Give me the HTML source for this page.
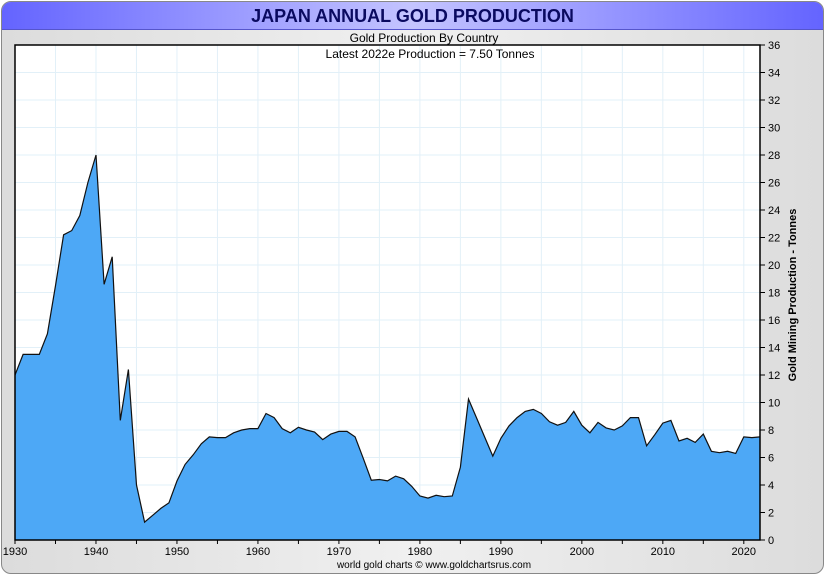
<!DOCTYPE html>
<html><head><meta charset="utf-8"><style>
body{margin:0;width:825px;height:575px;overflow:hidden;font-family:"Liberation Sans",sans-serif;background:#fff}
#frame{position:absolute;left:1px;top:1px;width:821px;height:571px;border:1px solid #888;border-radius:10px;background:linear-gradient(90deg,#dcdcdc,#f0f0f0 50%,#dcdcdc);overflow:hidden}
#title{position:absolute;left:0;top:0;width:821px;height:27px;background:linear-gradient(90deg,#6464ff,#c4c4ff 50%,#6464ff);border-bottom:1px solid #5555cc;text-align:center;font-weight:bold;font-size:18px;line-height:28px;color:#0a0a60}
</style></head><body>
<div id="frame">
<div id="title">JAPAN ANNUAL GOLD PRODUCTION</div>
</div>
<svg id="chart" width="825" height="575" style="position:absolute;left:0;top:0"></svg>
<script>
const years=[];for(let y=1930;y<=2022;y++)years.push(y);
const production=[12.0,13.5,13.5,13.5,15,18.5,22.2,22.5,23.6,26,28,18.6,20.6,8.7,12.4,4,1.3,1.8,2.3,2.7,4.3,5.5,6.2,7.0,7.5,7.45,7.45,7.8,8.0,8.1,8.1,9.2,8.9,8.1,7.8,8.2,8.0,7.85,7.3,7.7,7.9,7.9,7.5,5.95,4.35,4.4,4.3,4.65,4.45,3.9,3.2,3.05,3.25,3.15,3.2,5.3,10.25,8.87,7.48,6.1,7.4,8.3,8.9,9.35,9.5,9.2,8.6,8.35,8.55,9.35,8.35,7.8,8.55,8.15,8.0,8.3,8.9,8.9,6.85,7.65,8.5,8.7,7.2,7.4,7.1,7.7,6.45,6.35,6.45,6.3,7.5,7.45,7.5];
const yTicks=[0,2,4,6,8,10,12,14,16,18,20,22,24,26,28,30,32,34,36];
const xTicks=[1930,1940,1950,1960,1970,1980,1990,2000,2010,2020];
const L=15,R=760,T=45,B=540;
const X=y=>L+(y-1930)*(R-L)/92;
const Y=v=>B-v*(B-T)/36;
const svg=document.getElementById('chart');const NS='http://www.w3.org/2000/svg';
function mk(t,a,p){const e=document.createElementNS(NS,t);for(const k in a)e.setAttribute(k,a[k]);(p||svg).appendChild(e);return e;}
let e=mk('rect',{x:L,y:T,width:R-L,height:B-T,fill:'#fff'});


for(let yr=1935;yr<2022;yr+=5){e=mk('line',{x1:X(yr),x2:X(yr),y1:T,y2:B,stroke:'#e2f0f8','stroke-width':1});

}
yTicks.forEach(v=>{e=mk('line',{x1:L,x2:R,y1:Y(v),y2:Y(v),stroke:'#e2f0f8','stroke-width':1});

});
let d='M'+X(years[0])+','+Y(0);
years.forEach((yr,i)=>{d+=' L'+X(yr).toFixed(1)+','+Y(production[i]).toFixed(1);});
d+=' L'+X(years[years.length-1])+','+Y(0)+' Z';
e=mk('path',{d:d,fill:'#4da8f6',stroke:'none'});


let ld='';years.forEach((yr,i)=>{ld+=(i?' L':'M')+X(yr).toFixed(1)+','+Y(production[i]).toFixed(1);});
e=mk('path',{d:ld,fill:'none',stroke:'#111','stroke-width':1.2});


e=mk('rect',{x:L,y:T,width:R-L,height:B-T,fill:'none',stroke:'#000','stroke-width':1.5});


yTicks.forEach(v=>{mk('line',{x1:R,x2:R+5,y1:Y(v),y2:Y(v),stroke:'#000'});
e=mk('text',{x:R+8,y:Y(v)+4,'font-size':11,fill:'#000'});e.textContent=v;

});
for(let yr=1930;yr<=2022;yr+=5){mk('line',{x1:X(yr),x2:X(yr),y1:B,y2:B+4,stroke:'#000'});}
xTicks.forEach(yr=>{e=mk('text',{x:X(yr),y:B+15,'font-size':11,'text-anchor':'middle'});e.textContent=yr;

});
e=mk('text',{x:796,y:295,'font-size':11,'font-weight':'bold','text-anchor':'middle',transform:'rotate(-90 796 295)'});e.textContent='Gold Mining Production - Tonnes';


e=mk('text',{x:424,y:42,'font-size':12,'text-anchor':'middle'});e.textContent='Gold Production By Country';


e=mk('text',{x:430,y:58,'font-size':12,'text-anchor':'middle'});e.textContent='Latest 2022e  Production = 7.50 Tonnes';


e=mk('text',{x:434,y:568,'font-size':10,'text-anchor':'middle'});e.textContent='world gold charts \u00a9 www.goldchartsrus.com';


</script>
</body></html>
